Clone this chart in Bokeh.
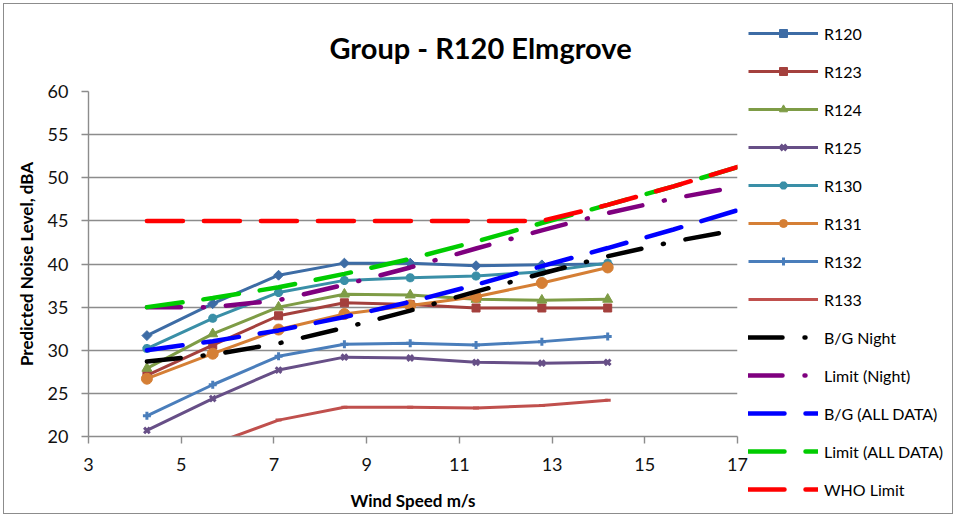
import numpy as np
from bokeh.plotting import figure
from bokeh.layouts import row
from bokeh.models import Range1d, FixedTicker, Legend, LegendItem, Title
from bokeh.embed import file_html
from bokeh.resources import INLINE

# ---- data ----
wind = [4.26, 5.68, 7.1, 8.52, 9.94, 11.36, 12.78, 14.2]
r120 = [31.7, 35.4, 38.7, 40.1, 40.1, 39.8, 39.9, 40.0]
r123 = [27.1, 30.6, 34.0, 35.5, 35.3, 34.9, 34.9, 34.9]
r124 = [27.9, 31.9, 35.0, 36.5, 36.4, 35.9, 35.8, 35.9]
r125 = [20.7, 24.4, 27.7, 29.2, 29.1, 28.6, 28.5, 28.6]
r130 = [30.2, 33.7, 36.7, 38.1, 38.4, 38.6, 39.1, 40.1]
r131 = [26.7, 29.6, 32.4, 34.2, 35.2, 36.2, 37.8, 39.6]
r132 = [22.4, 26.0, 29.3, 30.7, 30.8, 30.6, 31.0, 31.6]
r133 = [15.4, 19.1, 21.9, 23.4, 23.4, 23.3, 23.6, 24.2]

curve_wind = [4.26, 5.68, 7.1, 8.52, 9.94, 11.36, 12.78, 14.2, 15.62, 17.04]
bg_night = [28.7, 29.5, 30.8, 32.6, 34.6, 36.8, 38.9, 40.9, 42.6, 44.0]
limit_night = [35.0, 35.0, 35.8, 37.6, 39.6, 41.8, 43.9, 45.9, 47.6, 49.0]
bg_all = [30.0, 31.05, 32.3, 33.85, 35.6, 37.6, 39.75, 41.85, 44.0, 46.3]
limit_all = [35.0, 36.05, 37.3, 38.85, 40.6, 42.6, 44.75, 46.85, 49.0, 51.3]
who_limit = [45.0, 45.0, 45.0, 45.0, 45.0, 45.0, 45.0, 46.85, 49.0, 51.3]

x_ticks = [3, 5, 7, 9, 11, 13, 15, 17]
y_ticks = [20, 25, 30, 35, 40, 45, 50, 55, 60]

FONT = "Lato"

# ---- main chart ----
p = figure(width=744, height=509, output_backend="svg", toolbar_location=None,
           x_range=Range1d(3, 17), y_range=Range1d(20, 60),
           min_border_left=84, min_border_right=11, min_border_top=87,
           min_border_bottom=74)
p.outline_line_color = None
p.background_fill_color = "white"
p.border_fill_color = "white"
p.xgrid.grid_line_color = None
p.ygrid.grid_line_color = "#8c8c8c"
p.ygrid.grid_line_width = 1.4

for ax in (p.xaxis[0], p.yaxis[0]):
    ax.axis_line_color = "#8c8c8c"
    ax.axis_line_width = 1.4
    ax.major_tick_line_color = "#8c8c8c"
    ax.major_tick_line_width = 1.4
    ax.major_tick_out = 7
    ax.major_tick_in = 0
    ax.minor_tick_line_color = None
    ax.major_label_text_font = FONT
    ax.major_label_text_font_size = "18px"
    ax.major_label_text_color = "#111111"
    ax.axis_label_text_font = FONT
    ax.axis_label_text_font_style = "bold"
    ax.axis_label_text_font_size = "17px"
    ax.axis_label_text_color = "#000000"

p.xaxis[0].ticker = FixedTicker(ticks=x_ticks)
p.yaxis[0].ticker = FixedTicker(ticks=y_ticks)
p.xaxis[0].axis_label = "Wind Speed m/s"
p.yaxis[0].axis_label = "Predicted Noise Level, dBA"
p.xaxis[0].major_label_standoff = 14
p.yaxis[0].major_label_standoff = 13
p.xaxis[0].axis_label_standoff = 16
p.yaxis[0].axis_label_standoff = 8

# ---- legend panel (separate figure to the right) ----
q = figure(width=204, height=509, output_backend="svg", toolbar_location=None,
           x_range=Range1d(0, 1), y_range=Range1d(0, 1),
           min_border=0, min_border_left=0, min_border_right=0,
           min_border_top=0, min_border_bottom=0)
q.axis.visible = False
q.grid.visible = False
q.outline_line_color = None
q.background_fill_color = "white"
q.border_fill_color = "white"
for fig in (p, q):
    if "frame_align" in fig.properties():
        fig.frame_align = False

items = []

series = [
    ("R120", r120, "#3d6ca5", "square", 7, np.pi / 4, 1),
    ("R123", r123, "#a4403d", "square", 8, 0, 1),
    ("R124", r124, "#7e9c46", "triangle", 10, 0, 1),
    ("R125", r125, "#674f87", "x", 8, 0, 3),
    ("R130", r130, "#3a8fa7", "asterisk", 9, 0, 3),
    ("R131", r131, "#d57f35", "circle", 11, 0, 1),
    ("R132", r132, "#4a7ebb", "cross", 8, 0, 3),
    ("R133", r133, "#c0504d", "dash", 6, 0, 3),
]
for name, ys, col, mk, sz, ang, lw in series:
    p.line(wind, ys, line_color=col, line_width=3)
    p.scatter(wind, ys, marker=mk, size=sz, angle=ang,
              fill_color=col, line_color=col, line_width=lw)
    # same data in the legend panel: lies outside its 0..1 ranges, so only
    # the legend swatch is visible there
    lk = q.line(wind, ys, line_color=col, line_width=3)
    sk = q.scatter(wind, ys, marker=mk, size=sz, angle=ang,
                   fill_color=col, line_color=col, line_width=lw)
    items.append(LegendItem(label=name, renderers=[lk, sk]))

curves = [
    ("B/G Night", bg_night, "#000000", "34 22 1 22"),
    ("Limit (Night)", limit_night, "#7f007f", "34 22 1 22"),
    ("B/G (ALL DATA)", bg_all, "#0000ff", "36 21"),
    ("Limit (ALL DATA)", limit_all, "#00cc00", "36 21"),
    ("WHO Limit", who_limit, "#ff0000", "36 21"),
]
for name, ys, col, dash in curves:
    p.line(curve_wind, ys, line_color=col, line_width=4.5,
           line_dash=dash, line_cap="round")
    lk = q.line(curve_wind, ys, line_color=col, line_width=4.5,
                line_dash=dash, line_cap="round")
    items.append(LegendItem(label=name, renderers=[lk]))

legend = Legend(items=items, location=(0, 14), orientation="vertical",
                glyph_width=70, glyph_height=20, label_height=20, spacing=18,
                padding=0, margin=0, label_standoff=6,
                border_line_color=None, background_fill_alpha=0,
                label_text_font=FONT, label_text_font_size="16px",
                label_text_color="#000000")
q.add_layout(legend)

title = Title(text="Group - R120 Elmgrove", align="left", offset=241,
              vertical_align="top", standoff=50,
              text_font=FONT, text_font_style="bold",
              text_font_size="29px", text_color="#000000")
p.add_layout(title, "above")

layout = row(p, q)
layout.styles = {"border": "1px solid #8c8c8c", "margin-left": "3px",
                 "margin-top": "3px"}

open("out.html", "w").write(file_html(layout, INLINE))
